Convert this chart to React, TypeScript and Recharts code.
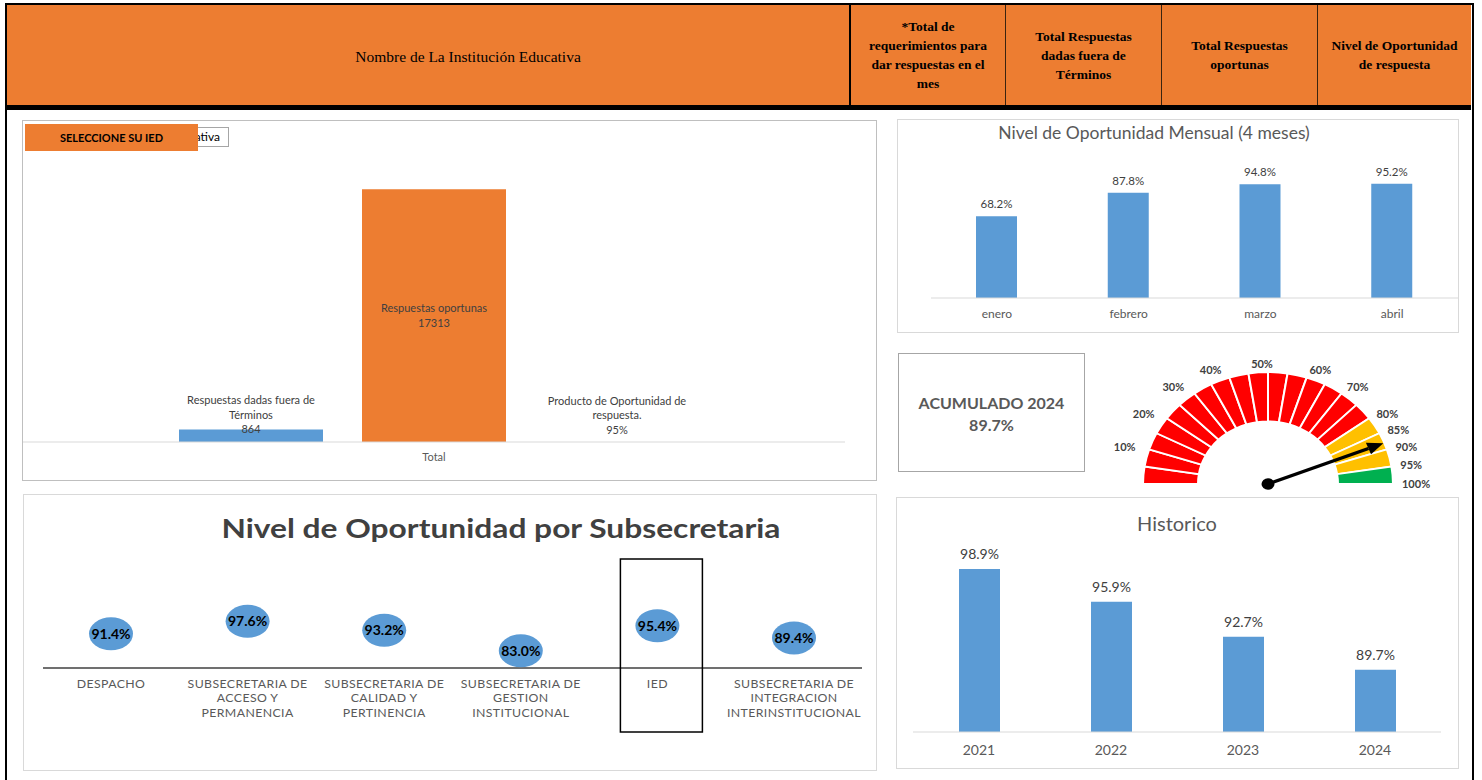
import React from 'react';
import { BarChart, Bar, XAxis, YAxis, LabelList, ComposedChart, Line, PieChart, Pie, Cell } from 'recharts';

// header of the sheet
const headerNombre = 'Nombre de La Institución Educativa';
const headerCols = [
  ['*Total de', 'requerimientos para', 'dar respuestas en el', 'mes'],
  ['Total Respuestas', 'dadas fuera de', 'Términos'],
  ['Total Respuestas', 'oportunas'],
  ['Nivel de Oportunidad', 'de respuesta'],
];

// resumen (pivot)
const resumenCategory = 'Total';
const resumenSeries = ['Respuestas dadas fuera de Términos', 'Respuestas oportunas', 'Producto de Oportunidad de respuesta.'];
const resumenValues = [864, 17313, 0.95];
const resumenColors = ['#5B9BD5', '#ED7D31', '#A5A5A5'];

// mensual
const meses = ['enero', 'febrero', 'marzo', 'abril'];
const mesValores = [68.2, 87.8, 94.8, 95.2];

// historico
const anios = ['2021', '2022', '2023', '2024'];
const anioValores = [98.9, 95.9, 92.7, 89.7];

// subsecretarias
const subsecretarias = [
  'DESPACHO',
  'SUBSECRETARIA DE ACCESO Y PERMANENCIA',
  'SUBSECRETARIA DE CALIDAD Y PERTINENCIA',
  'SUBSECRETARIA DE GESTION INSTITUCIONAL',
  'IED',
  'SUBSECRETARIA DE INTEGRACION INTERINSTITUCIONAL',
];
const subValores = [91.4, 97.6, 93.2, 83.0, 95.4, 89.4];
const destacada = 'IED';

// gauge
const acumulado = 89.7;
const gaugeEnds = [5, 10, 15, 20, 25, 30, 35, 40, 45, 50, 55, 60, 65, 70, 75, 80, 85, 90, 95, 100];
const gaugeColors = [
  '#FF0000', '#FF0000', '#FF0000', '#FF0000', '#FF0000', '#FF0000', '#FF0000', '#FF0000',
  '#FF0000', '#FF0000', '#FF0000', '#FF0000', '#FF0000', '#FF0000', '#FF0000', '#FF0000',
  '#FFC000', '#FFC000', '#FFC000', '#00B050',
];
const gaugeTicks = [10, 20, 30, 40, 50, 60, 70, 80, 85, 90, 95, 100];

const FONT = 'Lato, "Open Sans", sans-serif';
const SERIF = '"Liberation Serif", "Times New Roman", serif';
const RAD = Math.PI / 180;
const SQUASH = 0.895;

const wrap = (text: string, max: number) => {
  const lines: string[] = [];
  let cur = '';
  text.split(' ').forEach((w) => {
    const next = cur ? cur + ' ' + w : w;
    if (next.length > max && cur) {
      lines.push(cur);
      cur = w;
    } else cur = next;
  });
  if (cur) lines.push(cur);
  return lines;
};

const pct = (v: number) => `${v.toFixed(1)}%`;

const resumenData = [
  resumenSeries.reduce((o: any, _s, i) => ({ ...o, [`s${i}`]: resumenValues[i] }), { name: resumenCategory }),
];
const mesData = meses.map((m, i) => ({ name: m, v: mesValores[i] }));
const anioData = anios.map((a, i) => ({ name: a, v: anioValores[i] }));
const subData = subsecretarias.map((s, i) => ({ name: s, v: subValores[i] }));
const gaugeData = gaugeEnds.map((e, i) => ({ end: e, value: e - (i ? gaugeEnds[i - 1] : 0) }));
const needleData = [{ value: acumulado }, { value: 100 - acumulado }];

// label above a bar, last line sitting on the bar top
const aboveLabel = (name: string, fmt: (v: number) => string, lift: number) => (p: any) => {
  const lines = [...wrap(name, 26), fmt(Number(p.value))];
  const cx = p.x + p.width / 2;
  const last = Math.min(p.y, p.y + p.height) - lift;
  return (
    <text textAnchor="middle" fontSize={11} fill="#404040" fontFamily={FONT}>
      {lines.map((l, i) => (
        <tspan key={i} x={cx} y={last - (lines.length - 1 - i) * 14.5 + 4}>{l}</tspan>
      ))}
    </text>
  );
};

const centerLabel = (name: string) => (p: any) => {
  const lines = [...wrap(name, 26), String(p.value)];
  const cx = p.x + p.width / 2;
  const cy = p.y + p.height / 2;
  return (
    <text textAnchor="middle" fontSize={11} fill="#404040" fontFamily={FONT}>
      {lines.map((l, i) => (
        <tspan key={i} x={cx} y={cy + (i - (lines.length - 1) / 2) * 15 + 4}>{l}</tspan>
      ))}
    </text>
  );
};

const valueLabel = (gap: number, size: number) => (p: any) => (
  <text x={p.x + p.width / 2} y={p.y - gap} textAnchor="middle" fontSize={size} fill="#404040" fontFamily={FONT}>
    {pct(Number(p.value))}
  </text>
);

const simpleTick = (dy: number, size: number) => (p: any) => (
  <text x={p.x} y={p.y + dy} textAnchor="middle" fontSize={size} fill="#595959" fontFamily={FONT}>
    {p.payload.value}
  </text>
);

const subTick = (p: any) => {
  const lines = wrap(p.payload.value, 16);
  return (
    <g>
      <text textAnchor="middle" fontSize={12.3} letterSpacing={0.4} fill="#595959" fontFamily={FONT}>
        {lines.map((l, i) => (
          <tspan key={i} x={p.x} y={p.y + 19.5 + i * 14.5}>{l}</tspan>
        ))}
      </text>
      {p.payload.value === destacada && (
        <rect x={p.x - 37} y={p.y - 109} width={82} height={173} fill="none" stroke="#000" strokeWidth={1.5} />
      )}
    </g>
  );
};

const subDot = (p: any) => (
  <ellipse key={`d${p.index}`} cx={p.cx} cy={p.cy} rx={22} ry={16.5} fill="#5B9BD5" />
);

const subLabel = (p: any) => (
  <text x={p.x} y={p.y + 5} textAnchor="middle" fontSize={14} fontWeight="bold" fill="#000" fontFamily={FONT}>
    {pct(Number(p.value))}
  </text>
);

const gaugeLabel = (p: any) => {
  const end = gaugeData[p.index]?.end;
  if (!gaugeTicks.includes(end)) return null;
  const ang = typeof p.endAngle === 'number' ? p.endAngle : p.midAngle - 4.5;
  const r = 134;
  const x = p.cx + r * Math.cos(ang * RAD);
  const y = p.cy - r * Math.sin(ang * RAD);
  const anchor = ang > 100 ? 'end' : ang < 80 ? 'start' : 'middle';
  const shift = ang > 100 ? -5 : ang > 80 ? -6 : 0;
  return (
    <text transform={`translate(${x + shift},${y}) scale(1,${1 / SQUASH})`} x={0} y={4} textAnchor={anchor}
      fontSize={11} fontWeight="bold" fill="#404040" fontFamily={FONT}>
      {end}%
    </text>
  );
};

const needleLabel = (p: any) => {
  if (p.index !== 0) return null;
  const ang = (typeof p.endAngle === 'number' ? p.endAngle : 2 * p.midAngle - 180) + 3;
  const c = Math.cos(ang * RAD);
  const s = Math.sin(ang * RAD);
  const len = 124;
  const tipX = p.cx + len * c;
  const tipY = p.cy - len * s;
  const baseX = p.cx + (len - 16) * c;
  const baseY = p.cy - (len - 16) * s;
  const nx = -s;
  const ny = -c;
  return (
    <g>
      <line x1={p.cx} y1={p.cy} x2={baseX} y2={baseY} stroke="#000" strokeWidth={3.5} />
      <polygon
        points={`${tipX},${tipY} ${baseX + nx * 7},${baseY + ny * 7} ${baseX - nx * 7},${baseY - ny * 7}`}
        fill="#000"
      />
      <circle cx={p.cx} cy={p.cy} r={6.5} fill="#000" />
    </g>
  );
};

const abs = (left: number, top: number, width: number, height: number, extra: React.CSSProperties = {}): React.CSSProperties => ({
  position: 'absolute', left, top, width, height, boxSizing: 'border-box', ...extra,
});

const App: React.FC = () => {
  const colX = [849, 1005, 1161, 1317, 1471];
  return (
    <div style={{ position: 'absolute', left: 0, top: 0, width: 1482, height: 780, background: '#fff', overflow: 'hidden', fontFamily: FONT }}>
      {/* frame */}
      <div style={abs(5, 3, 1469, 800, { borderLeft: '2px solid #000', borderRight: '2px solid #000', borderTop: '2px solid #000' })} />
      {/* header */}
      <div style={abs(7, 5, 1464, 100, { background: '#ED7D31' })} />
      <div style={abs(7, 105, 1464, 5, { background: '#000' })} />
      <div style={{ position: 'absolute', left: 468, top: 46, transform: 'translateX(-50%)', whiteSpace: 'nowrap', fontFamily: SERIF, fontSize: 15.5, lineHeight: '22px', color: '#000' }}>
        {headerNombre}
      </div>
      {headerCols.map((lines, i) => (
        <div key={i} style={abs(colX[i], 5, colX[i + 1] - colX[i], 100, {
          borderLeft: i === 0 ? '2px solid #000' : '1px solid #3a2410',
          display: 'flex', flexDirection: 'column', alignItems: 'center', justifyContent: 'center',
          fontFamily: SERIF, fontWeight: 'bold', fontSize: 13.5, lineHeight: '19px', color: '#000', textAlign: 'center',
        })}>
          {lines.map((l, j) => <div key={j}>{l}</div>)}
        </div>
      ))}

      {/* resumen */}
      <div style={abs(22, 120, 855, 361, { border: '1px solid #BFBFBF' })} />
      <div style={abs(23, 121, 853, 359)}>
        <BarChart width={853} height={359} data={resumenData} margin={{ top: 29, right: 31, bottom: 0, left: 0 }} barSize={144} barGap={39}>
          <XAxis dataKey="name" axisLine={{ stroke: '#D9D9D9' }} tickLine={false} tickSize={0} tickMargin={0} height={38} tick={simpleTick(19, 11)} />
          <YAxis hide domain={[0, 20000]} />
          <Bar dataKey="s0" fill={resumenColors[0]} isAnimationActive={false}>
            <LabelList dataKey="s0" content={aboveLabel(resumenSeries[0], (v) => String(v), 0)} />
          </Bar>
          <Bar dataKey="s1" fill={resumenColors[1]} isAnimationActive={false}>
            <LabelList dataKey="s1" content={centerLabel(resumenSeries[1])} />
          </Bar>
          <Bar dataKey="s2" fill={resumenColors[2]} isAnimationActive={false}>
            <LabelList dataKey="s2" content={aboveLabel(resumenSeries[2], (v) => `${Math.round(v * 100)}%`, 12)} />
          </Bar>
        </BarChart>
      </div>
      {/* filter field, mostly hidden behind the orange button */}
      <div style={abs(25, 127, 204, 20, { border: '1px solid #A6A6A6', background: '#fff' })} />
      <div style={abs(198, 128, 22, 18, { overflow: 'hidden', whiteSpace: 'nowrap', direction: 'rtl', fontSize: 12, lineHeight: '18px', color: '#000' })}>
        {headerNombre}
      </div>
      <div style={abs(25, 124, 173, 27, { background: '#ED7D31', display: 'flex', alignItems: 'center', justifyContent: 'center', fontSize: 11, fontWeight: 'bold', color: '#000' })}>
        SELECCIONE SU IED
      </div>

      {/* mensual */}
      <div style={abs(897, 119, 562, 214, { border: '1px solid #D9D9D9' })} />
      <div style={{ position: 'absolute', left: 1154, top: 121, transform: 'translateX(-50%)', whiteSpace: 'nowrap', fontSize: 17.5, lineHeight: '24px', color: '#595959' }}>
        Nivel de Oportunidad Mensual (4 meses)
      </div>
      <div style={abs(898, 120, 560, 212)}>
        <BarChart width={560} height={212} data={mesData} margin={{ top: 58, right: 0, bottom: 0, left: 33 }} barSize={41}>
          <XAxis dataKey="name" axisLine={{ stroke: '#D9D9D9' }} tickLine={false} tickSize={0} tickMargin={0} height={34} tick={simpleTick(19.5, 12)} />
          <YAxis hide domain={[0, 100]} />
          <Bar dataKey="v" fill="#5B9BD5" isAnimationActive={false}>
            <LabelList dataKey="v" content={valueLabel(8, 11.5)} />
          </Bar>
        </BarChart>
      </div>

      {/* acumulado */}
      <div style={abs(898, 353, 187, 119, { border: '1px solid #A6A6A6', display: 'flex', flexDirection: 'column', alignItems: 'center', justifyContent: 'center', fontSize: 16, fontWeight: 'bold', lineHeight: '22px', color: '#595959', paddingTop: 3 })}>
        <div>ACUMULADO 2024</div>
        <div>{pct(acumulado)}</div>
      </div>

      {/* gauge */}
      <div style={abs(1088, 324, 360, 172, { transform: `scaleY(${SQUASH})`, transformOrigin: '180px 160px' })}>
        <PieChart width={360} height={172} margin={{ top: 0, right: 0, bottom: 0, left: 0 }}>
          <Pie data={gaugeData} dataKey="value" cx={180} cy={160} startAngle={180} endAngle={0}
            innerRadius={70} outerRadius={125} stroke="#fff" strokeWidth={2}
            label={gaugeLabel} labelLine={false} isAnimationActive={false}>
            {gaugeData.map((_d, i) => <Cell key={i} fill={gaugeColors[i]} />)}
          </Pie>
          <Pie data={needleData} dataKey="value" cx={180} cy={160} startAngle={180} endAngle={0}
            innerRadius={0} outerRadius={120} fill="none" stroke="none"
            label={needleLabel} labelLine={false} isAnimationActive={false} />
        </PieChart>
      </div>

      {/* subsecretarias */}
      <div style={abs(23, 494, 854, 277, { border: '1px solid #D9D9D9' })} />
      <div style={{ position: 'absolute', left: 501, top: 512, transform: 'translateX(-50%) scaleX(1.22)', whiteSpace: 'nowrap', fontSize: 26, fontWeight: 'bold', lineHeight: '32px', color: '#404040' }}>
        Nivel de Oportunidad por Subsecretaria
      </div>
      <div style={abs(24, 495, 852, 275)}>
        <ComposedChart width={852} height={275} data={subData} margin={{ top: 121.5, right: 14, bottom: 0, left: 19 }}>
          <XAxis dataKey="name" padding={{ left: 68, right: 68 }} axisLine={{ stroke: '#404040', strokeWidth: 1.5 }} tickLine={false} tickSize={0} tickMargin={0} height={102} interval={0} tick={subTick} />
          <YAxis hide domain={[74.5, 100]} />
          <Line dataKey="v" stroke="none" dot={subDot} activeDot={false} isAnimationActive={false}>
            <LabelList dataKey="v" content={subLabel} />
          </Line>
        </ComposedChart>
      </div>

      {/* historico */}
      <div style={abs(896, 497, 563, 272, { border: '1px solid #D9D9D9' })} />
      <div style={{ position: 'absolute', left: 1177, top: 510, transform: 'translateX(-50%)', whiteSpace: 'nowrap', fontSize: 20, lineHeight: '26px', color: '#595959' }}>
        Historico
      </div>
      <div style={abs(897, 498, 561, 270)}>
        <BarChart width={561} height={270} data={anioData} margin={{ top: 59, right: 17, bottom: 0, left: 16 }} barSize={41}>
          <XAxis dataKey="name" axisLine={{ stroke: '#D9D9D9' }} tickLine={false} tickSize={0} tickMargin={0} height={36} tick={simpleTick(23, 14)} />
          <YAxis hide domain={[84, 100]} />
          <Bar dataKey="v" fill="#5B9BD5" isAnimationActive={false}>
            <LabelList dataKey="v" content={valueLabel(10, 14)} />
          </Bar>
        </BarChart>
      </div>
    </div>
  );
};

export default App;
